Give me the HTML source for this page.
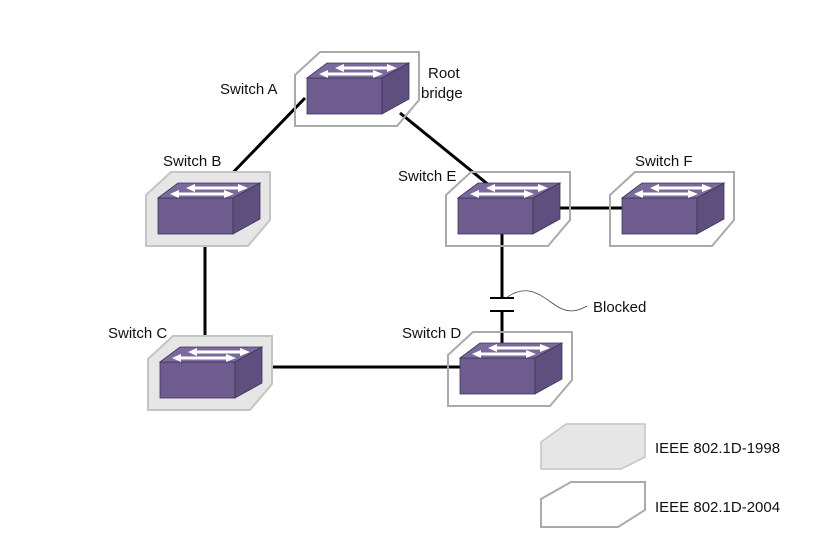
<!DOCTYPE html>
<html><head><style>
html,body{margin:0;padding:0;background:#fff;}
svg{display:block;}
text{font-family:"Liberation Sans",sans-serif;font-size:15px;fill:#111;}
</style></head><body>
<svg width="825" height="555" viewBox="0 0 825 555" xmlns="http://www.w3.org/2000/svg">
<defs>
<g id="sw">
  <rect x="0" y="0" width="75" height="36" fill="#6e5c8f" stroke="#3d3356" stroke-width="0.8"/>
  <polygon points="0,0 20,-15 102,-15 75,0" fill="#7b6b9c" stroke="#3d3356" stroke-width="0.8"/>
  <polygon points="75,0 102,-15 102,21 75,36" fill="#5f4f7f" stroke="#3d3356" stroke-width="0.8"/>
  <g fill="#fff">
    <polygon points="28,-10 37,-14 37,-11.5 80,-11.5 80,-14 90,-10 80,-6 80,-8.5 37,-8.5 37,-6"/>
    <polygon points="12,-4 21,-8 21,-5.5 66,-5.5 66,-8 76,-4 66,0 66,-2.5 21,-2.5 21,0"/>
  </g>
</g>
<polygon id="hx" points="-12,-3 13,-26 112,-26 112,22 90,48 -12,48"/>
</defs>

<g stroke="#000" stroke-width="3" fill="none">
  <line x1="305" y1="98" x2="220" y2="186"/>
  <line x1="400" y1="113" x2="490" y2="186"/>
  <line x1="205" y1="232" x2="205" y2="345"/>
  <line x1="255" y1="367" x2="460" y2="367"/>
  <line x1="540" y1="208" x2="622" y2="208"/>
  <line x1="502" y1="232" x2="502" y2="298"/>
  <line x1="502" y1="311" x2="502" y2="345"/>
  <line x1="490" y1="298" x2="514" y2="298" stroke-width="2"/>
  <line x1="490" y1="311" x2="514" y2="311" stroke-width="2"/>
</g>
<path d="M506,298 C530,280 545,300 560,308 C570,313 578,311 587,306" stroke="#444" stroke-width="0.8" fill="none"/>

<use href="#hx" transform="translate(307,78)" fill="none" stroke="#aaa" stroke-width="2"/>
<use href="#hx" transform="translate(158,198)" fill="#e6e6e6" stroke="#c4c4c4" stroke-width="2"/>
<use href="#hx" transform="translate(160,362)" fill="#e6e6e6" stroke="#c4c4c4" stroke-width="2"/>
<use href="#hx" transform="translate(460,358)" fill="none" stroke="#aaa" stroke-width="2"/>
<use href="#hx" transform="translate(458,198)" fill="none" stroke="#aaa" stroke-width="2"/>
<use href="#hx" transform="translate(622,198)" fill="none" stroke="#aaa" stroke-width="2"/>

<use href="#sw" transform="translate(307,78)"/>
<use href="#sw" transform="translate(158,198)"/>
<use href="#sw" transform="translate(160,362)"/>
<use href="#sw" transform="translate(460,358)"/>
<use href="#sw" transform="translate(458,198)"/>
<use href="#sw" transform="translate(622,198)"/>

<text x="220" y="94">Switch A</text>
<text x="428" y="78">Root</text>
<text x="421" y="98">bridge</text>
<text x="163" y="166">Switch B</text>
<text x="398" y="181">Switch E</text>
<text x="635" y="166">Switch F</text>
<text x="108" y="338">Switch C</text>
<text x="402" y="338">Switch D</text>
<text x="593" y="312">Blocked</text>

<polygon points="541,442 566,424 645,424 645,457 621,469 541,469" fill="#e6e6e6" stroke="#c4c4c4" stroke-width="1.5"/>
<polygon points="541,499 571,482 645,482 645,510 618,527 541,527" fill="none" stroke="#aaa" stroke-width="2"/>
<text x="655" y="453">IEEE 802.1D-1998</text>
<text x="655" y="512">IEEE 802.1D-2004</text>
</svg>
</body></html>
